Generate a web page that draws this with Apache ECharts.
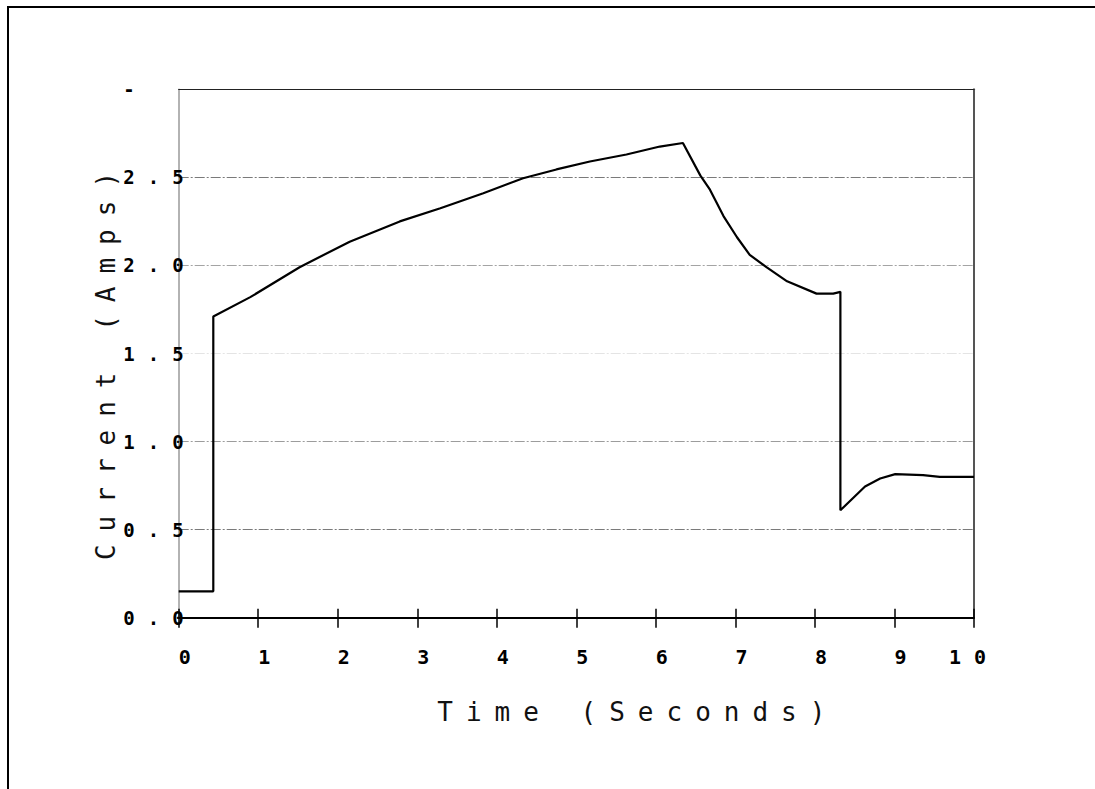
<!DOCTYPE html>
<html>
<head>
<meta charset="utf-8">
<script src="https://cdn.jsdelivr.net/npm/echarts@6/dist/echarts.min.js"></script>
<style>
  html, body { margin: 0; padding: 0; background: #ffffff; }
  #chart { width: 1095px; height: 789px; }
  /* plotter-style wide letter spacing for every label */
  #chart text { letter-spacing: 13px; }
</style>
</head>
<body>
<div id="chart"></div>
<script>
// Current drawn by the load over the test run
const timeSeconds = [0, 0.435, 0.435, 0.9, 1.52, 2.15, 2.78, 3.29, 3.83, 4.33, 4.75, 5.17, 5.63, 6.05, 6.34,
  6.56, 6.68, 6.85, 7.02, 7.18, 7.39, 7.65, 8.02, 8.23, 8.32, 8.32, 8.63, 8.82, 9.01, 9.36, 9.57, 10];
const currentAmps = [0.15, 0.15, 1.71, 1.82, 1.99, 2.135, 2.25, 2.325, 2.41, 2.495, 2.545, 2.59, 2.63, 2.675, 2.695,
  2.51, 2.43, 2.28, 2.16, 2.06, 1.99, 1.91, 1.84, 1.84, 1.85, 0.61, 0.745, 0.79, 0.815, 0.81, 0.80, 0.80];

// Tick labels
const xTickLabels = ['0', '1', '2', '3', '4', '5', '6', '7', '8', '9', '10'];
const yTickLabels = ['0.0', '0.5', '1.0', '1.5', '2.0', '2.5', '-'];

const xTitle = 'Time (Seconds)';
const yTitle = 'Current (Amps)';

const MONO = "'DejaVu Sans Mono', monospace";
const NBSP = '\u00a0';

const chart = echarts.init(document.getElementById('chart'), null, { renderer: 'svg' });

chart.setOption({
  animation: false,
  backgroundColor: '#ffffff',
  grid: { left: 178.7, top: 89.3, right: 121, bottom: 171.3, containLabel: false },
  graphic: [
    { type: 'line', shape: { x1: 7, y1: 7, x2: 1095, y2: 7 }, style: { stroke: '#000', lineWidth: 2 } },
    { type: 'line', shape: { x1: 8, y1: 6, x2: 8, y2: 789 }, style: { stroke: '#000', lineWidth: 2 } }
  ],
  xAxis: [
    {
      type: 'value', position: 'bottom', min: 0, max: 10, interval: 1,
      name: xTitle, nameLocation: 'middle', nameGap: 94,
      nameTextStyle: { fontFamily: MONO, fontSize: 26, color: '#111', verticalAlign: 'middle', padding: [0, 0, 0, 123] },
      axisLine: { show: true, onZero: false, lineStyle: { color: '#000', width: 2 } },
      axisTick: { show: true, length: 10, lineStyle: { color: '#000', width: 1.5 } },
      axisLabel: {
        show: true, margin: 29, fontFamily: MONO, fontSize: 20, fontWeight: 'bold', color: '#000',
        formatter: v => { const s = xTickLabels[Math.round(v)]; return s.length < 2 ? NBSP + s : s; }
      },
      splitLine: { show: false }
    },
    {
      // inner half of the crossing x ticks
      type: 'value', position: 'bottom', min: 0, max: 10, interval: 1,
      axisLine: { show: false },
      axisTick: { show: true, inside: true, length: 9, lineStyle: { color: '#000', width: 1.5 } },
      axisLabel: { show: false },
      splitLine: { show: false }
    },
    {
      // top frame of the plot
      type: 'value', position: 'top', min: 0, max: 10,
      axisLine: { show: true, onZero: false, lineStyle: { color: '#222', width: 1.2 } },
      axisTick: { show: false }, axisLabel: { show: false }, splitLine: { show: false }
    }
  ],
  yAxis: [
    {
      type: 'value', position: 'left', min: 0, max: 3, interval: 0.5,
      name: yTitle, nameLocation: 'middle', nameGap: 73,
      nameTextStyle: { fontFamily: MONO, fontSize: 26, color: '#111', verticalAlign: 'middle', padding: [0, 12, 0, 0] },
      axisLine: { show: true, onZero: false, lineStyle: { color: '#9a9a9a', width: 1.5 } },
      axisTick: { show: false },
      axisLabel: {
        show: true, margin: -18, fontFamily: MONO, fontSize: 19, fontWeight: 'bold', color: '#000',
        padding: [6, 0, 0, 0],
        formatter: v => {
          const s = yTickLabels[Math.round(v / 0.5)];
          return s === '-' ? s + NBSP + NBSP : s;
        }
      },
      splitLine: {
        show: true,
        lineStyle: {
          color: ['#888', '#7a7a7a', '#9c9c9c', '#e4e4e4', '#a4a4a4', '#7a7a7a', '#222'],
          width: 1, type: [10, 2, 2, 2]
        }
      }
    },
    {
      // right frame of the plot
      type: 'value', position: 'right', min: 0, max: 3,
      axisLine: { show: true, onZero: false, lineStyle: { color: '#555', width: 2 } },
      axisTick: { show: false }, axisLabel: { show: false }, splitLine: { show: false }
    }
  ],
  series: [
    {
      type: 'line', xAxisIndex: 0, yAxisIndex: 0,
      data: timeSeconds.map((t, i) => [t, currentAmps[i]]),
      showSymbol: false, symbol: 'none', smooth: false,
      lineStyle: { color: '#000', width: 2.2 },
      z: 5
    }
  ]
});
</script>
</body>
</html>
